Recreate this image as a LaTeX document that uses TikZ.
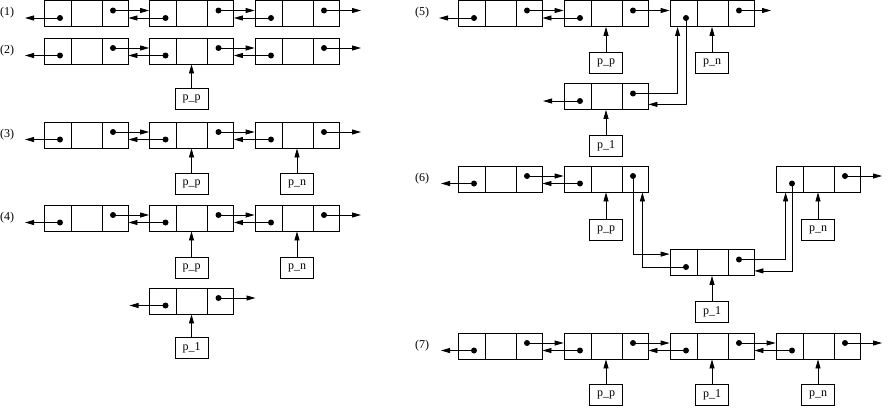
\documentclass[tikz,border=0pt]{standalone}
\usepackage{fontspec}
\setmainfont{Liberation Serif}
\usetikzlibrary{arrows.meta}
\tikzset{>={Triangle[width=5pt,length=9pt]}}

\begin{document}
\begin{tikzpicture}[x=1pt, y=-1pt, line width=0.8pt,
  elem/.style={draw, minimum width=84pt, minimum height=26pt, inner sep=0pt},
  ptr/.style={draw, minimum width=33pt, minimum height=21pt, inner sep=0pt},
  lbl/.style={inner sep=0pt}]

  \fontsize{12}{14}\selectfont

  %% <spacing>
  \useasboundingbox (0,0) rectangle (893,407);
  % </spacing>

  \newcommand\Elem[3]{% name, left, top
    \node[elem] (#1) at (#2+42, #3+13) {};
    \draw (#2+27, #3) -- (#2+27, #3+26) (#2+58, #3) -- (#2+58, #3+26);
    \coordinate (#1-l) at (#2+16, #3+17.5);
    \coordinate (#1-r) at (#2+69, #3+10);
    \fill (#1-l) circle (3pt) (#1-r) circle (3pt);
  }
  \newcommand\Link[2]{% a <-> b
    \draw[->] (#1-r) -- (#1-r -| #2.west);
    \draw[->] (#2-l) -- (#2-l -| #1.east);
  }
  \newcommand\Ptr[4]{% name, elem, top, text
    \node[ptr] (#1) at (#2.south |- 0,#3+10.5) {#4};
    \draw[->] (#1) -- (#2);
  }

  %% (1) .. (4)
  \foreach \n/\y in {1/0.5, 2/38, 3/122, 4/205} {
    \node[lbl] (lab\n) at (7, \y+12.5) {(\n)};
    \Elem{a\n}{44}{\y}
    \Elem{b\n}{149.5}{\y}
    \Elem{c\n}{255}{\y}
    \Link{a\n}{b\n}
    \Link{b\n}{c\n}
    \draw[->] (a\n-l) -- ++(-35,0);
    \draw[->] (c\n-r) -- ++(37,0);
  }

  \Ptr{pp2}{b2}{88}{p\_p}

  \Ptr{pp3}{b3}{173}{p\_p}
  \Ptr{pn3}{c3}{173}{p\_n}

  \Ptr{pp4}{b4}{257.5}{p\_p}
  \Ptr{pn4}{c4}{257.5}{p\_n}
  \Elem{d4}{149.5}{288}
  \draw[->] (d4-l) -- ++(-36,0);
  \draw[->] (d4-r) -- ++(37,0);
  \Ptr{pl4}{d4}{337}{p\_1}

  %% (5)
  \node[lbl] (lab5) at (422, 12.5) {(5)};
  \Elem{e1}{458}{0.5}
  \Elem{e2}{564}{0.5}
  \Elem{e3}{670}{0.5}
  \Elem{e4}{564}{83.5}
  \Link{e1}{e2}
  \draw[->] (e2-r) -- (e2-r -| e3.west);
  \draw[->] (e1-l) -- ++(-35,0);
  \draw[->] (e3-r) -- ++(32,0);
  \draw[->] (e4-l) -- ++(-37,0);
  \draw[->] (e3-l) |- ([yshift=5.5pt]e4.south east);
  \draw[->] (e4-r) -| ([xshift=8pt]e3.south west);
  \Ptr{pp5}{e2}{52}{p\_p}
  \Ptr{pn5}{e3}{52}{p\_n}
  \Ptr{pl5}{e4}{135}{p\_1}

  %% (6)
  \node[lbl] (lab6) at (422, 178.5) {(6)};
  \Elem{f1}{458}{166}
  \Elem{f2}{564}{166}
  \Elem{f3}{776}{166}
  \Elem{f4}{670}{249.5}
  \Link{f1}{f2}
  \draw[->] (f1-l) -- ++(-33,0);
  \draw[->] (f3-r) -- ++(37,0);
  \draw[->] (f2-r) |- ([yshift=-5pt]f4.north west);
  \draw[->] (f4-l) -| ([xshift=-6pt]f2.south east);
  \draw[->] (f4-r) -| ([xshift=10pt]f3.south west);
  \draw[->] (f3-l) |- ([yshift=5pt]f4.south east);
  \Ptr{pp6}{f2}{219}{p\_p}
  \Ptr{pn6}{f3}{219}{p\_n}
  \Ptr{pl6}{f4}{301}{p\_1}

  %% (7)
  \node[lbl] (lab7) at (422, 345.5) {(7)};
  \Elem{g1}{458}{333}
  \Elem{g2}{564}{333}
  \Elem{g3}{670}{333}
  \Elem{g4}{776}{333}
  \Link{g1}{g2}
  \Link{g2}{g3}
  \Link{g3}{g4}
  \draw[->] (g1-l) -- ++(-33,0);
  \draw[->] (g4-r) -- ++(37,0);
  \Ptr{pp7}{g2}{384}{p\_p}
  \Ptr{pl7}{g3}{384}{p\_1}
  \Ptr{pn7}{g4}{384}{p\_n}

\end{tikzpicture}
\end{document}
